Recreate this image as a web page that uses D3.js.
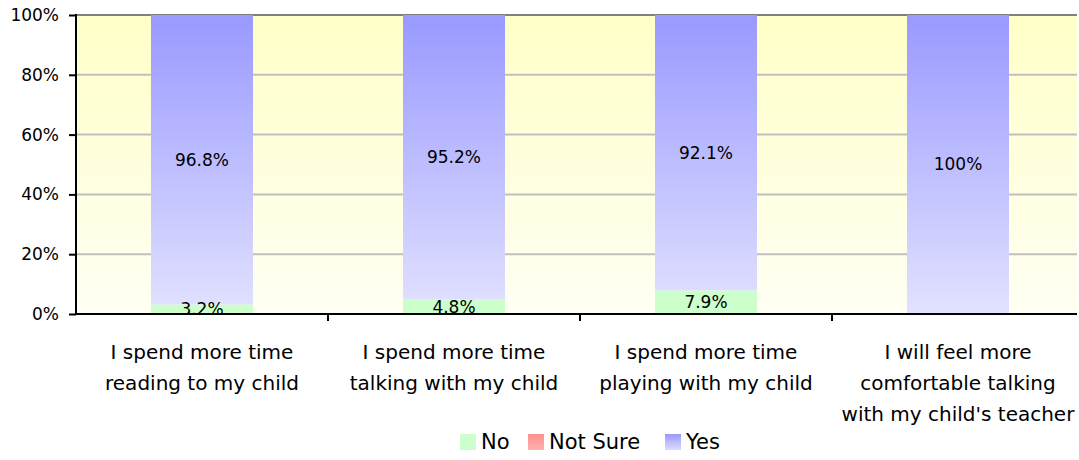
<!DOCTYPE html>
<html>
<head>
<meta charset="utf-8">
<script src="https://d3js.org/d3.v7.min.js"></script>
<style>
  body { margin: 0; background: #fff; }
  text { font-family: "DejaVu Sans", "Liberation Sans", sans-serif; fill: #000; }
</style>
</head>
<body>
<svg width="1079" height="460"></svg>
<script>
var categories = [
  ["I spend more time", "reading to my child"],
  ["I spend more time", "talking with my child"],
  ["I spend more time", "playing with my child"],
  ["I will feel more", "comfortable talking", "with my child's teacher"]
];
var seriesNames = ["No", "Not Sure", "Yes"];
var noValues = [3.2, 4.8, 7.9, 0];
var notSureValues = [0, 0, 0, 0];
var yesValues = [96.8, 95.2, 92.1, 100];
var yTicks = [0, 20, 40, 60, 80, 100];

var svg = d3.select("svg");
var plotLeft = 76, plotRight = 1077, plotTop = 15, plotBottom = 314;
var bandRight = 1084; // last category runs past the visible plot edge

// gradients
var defs = svg.append("defs");
function grad(id, c1, c2, user) {
  var g = defs.append("linearGradient").attr("id", id);
  if (user) {
    g.attr("gradientUnits", "userSpaceOnUse").attr("x1", 0).attr("x2", 0)
     .attr("y1", plotTop).attr("y2", plotBottom);
  } else {
    g.attr("x1", 0).attr("y1", 0).attr("x2", 0).attr("y2", 1);
  }
  g.append("stop").attr("offset", "0%").attr("stop-color", c1);
  g.append("stop").attr("offset", "100%").attr("stop-color", c2);
}
grad("bg", "#ffffc8", "#fffff4", false);
grad("gYes", "#9999ff", "#e2e2ff", true);
grad("gNo", "#ccffcc", "#ccffcc", true);
grad("gNS", "#ff9090", "#ffc0c0", true);
grad("lgNo", "#ccffcc", "#ccffcc", false);
grad("lgNS", "#ff9090", "#ffb0b0", false);
grad("lgYes", "#9999ff", "#dcdcff", false);

var x = d3.scaleBand().domain(d3.range(categories.length)).range([plotLeft, bandRight]);
var y = d3.scaleLinear().domain([0, 100]).range([plotBottom, plotTop]);
var barW = 102;

svg.append("rect").attr("x", plotLeft).attr("y", plotTop)
  .attr("width", plotRight - plotLeft).attr("height", plotBottom - plotTop)
  .attr("fill", "url(#bg)");

// gridlines
svg.selectAll("line.grid").data(yTicks.filter(function(d) { return d > 0; }))
  .enter().append("line")
  .attr("x1", plotLeft).attr("x2", plotRight)
  .attr("y1", function(d) { return y(d); }).attr("y2", function(d) { return y(d); })
  .attr("stroke", function(d) { return d == 100 ? "#808080" : "#c0c0c0"; })
  .attr("stroke-width", 2);

// stacked bars
var stackData = categories.map(function(c, i) {
  return { i: i, no: noValues[i], ns: notSureValues[i], yes: yesValues[i] };
});
var stack = d3.stack().keys(["no", "ns", "yes"])(stackData);
var fills = { no: "url(#gNo)", ns: "url(#gNS)", yes: "url(#gYes)" };

stack.forEach(function(layer) {
  svg.append("g").selectAll("rect").data(layer).enter().append("rect")
    .attr("x", function(d) { return x(d.data.i) + (x.bandwidth() - barW) / 2; })
    .attr("width", barW)
    .attr("y", function(d) { return y(d[1]); })
    .attr("height", function(d) { return y(d[0]) - y(d[1]); })
    .attr("fill", fills[layer.key]);
});

// value labels
stack.forEach(function(layer) {
  svg.append("g").selectAll("text")
    .data(layer.filter(function(d) { return d.data[layer.key] > 0; }))
    .enter().append("text")
    .attr("x", function(d) { return x(d.data.i) + x.bandwidth() / 2; })
    .attr("y", function(d) { return (y(d[0]) + y(d[1])) / 2; })
    .attr("dy", "0.35em")
    .attr("text-anchor", "middle")
    .style("font-size", "17px")
    .text(function(d) { return d.data[layer.key] + "%"; });
});

// axes
var yAxis = d3.axisLeft(y).tickValues(yTicks).tickFormat(function(d) { return d + "%"; })
  .tickSize(7).tickPadding(10);
var gy = svg.append("g").attr("transform", "translate(" + plotLeft + ",0)").call(yAxis);
gy.select(".domain").remove();
gy.selectAll("line").attr("stroke", "#000").attr("stroke-width", 2);
gy.selectAll("text").style("font-size", "17px").style("font-family", "'DejaVu Sans', sans-serif");

svg.append("line").attr("x1", plotLeft).attr("x2", plotLeft).attr("y1", plotTop - 1).attr("y2", plotBottom + 1)
  .attr("stroke", "#000").attr("stroke-width", 2);
svg.append("line").attr("x1", plotLeft).attr("x2", plotRight).attr("y1", plotBottom).attr("y2", plotBottom)
  .attr("stroke", "#000").attr("stroke-width", 2);

// category separators on x axis
svg.selectAll("line.xt").data(d3.range(1, categories.length)).enter().append("line")
  .attr("x1", function(d) { return plotLeft + d * x.step(); })
  .attr("x2", function(d) { return plotLeft + d * x.step(); })
  .attr("y1", plotBottom).attr("y2", plotBottom + 7)
  .attr("stroke", "#000").attr("stroke-width", 2);

// category labels
categories.forEach(function(lines, i) {
  var t = svg.append("text").attr("text-anchor", "middle").style("font-size", "20px");
  lines.forEach(function(l, k) {
    t.append("tspan").attr("x", x(i) + x.bandwidth() / 2).attr("y", 359 + k * 31).text(l);
  });
});

// legend
var legendItems = [
  { name: seriesNames[0], fill: "url(#lgNo)", x: 460 },
  { name: seriesNames[1], fill: "url(#lgNS)", x: 528 },
  { name: seriesNames[2], fill: "url(#lgYes)", x: 665 }
];
var lg = svg.append("g").selectAll("g").data(legendItems).enter().append("g");
lg.append("rect").attr("x", function(d) { return d.x; }).attr("y", 434).attr("width", 16).attr("height", 16)
  .attr("fill", function(d) { return d.fill; });
lg.append("text").attr("x", function(d) { return d.x + 21; }).attr("y", 442).attr("dy", "0.35em")
  .style("font-size", "21px").text(function(d) { return d.name; });
</script>
</body>
</html>
